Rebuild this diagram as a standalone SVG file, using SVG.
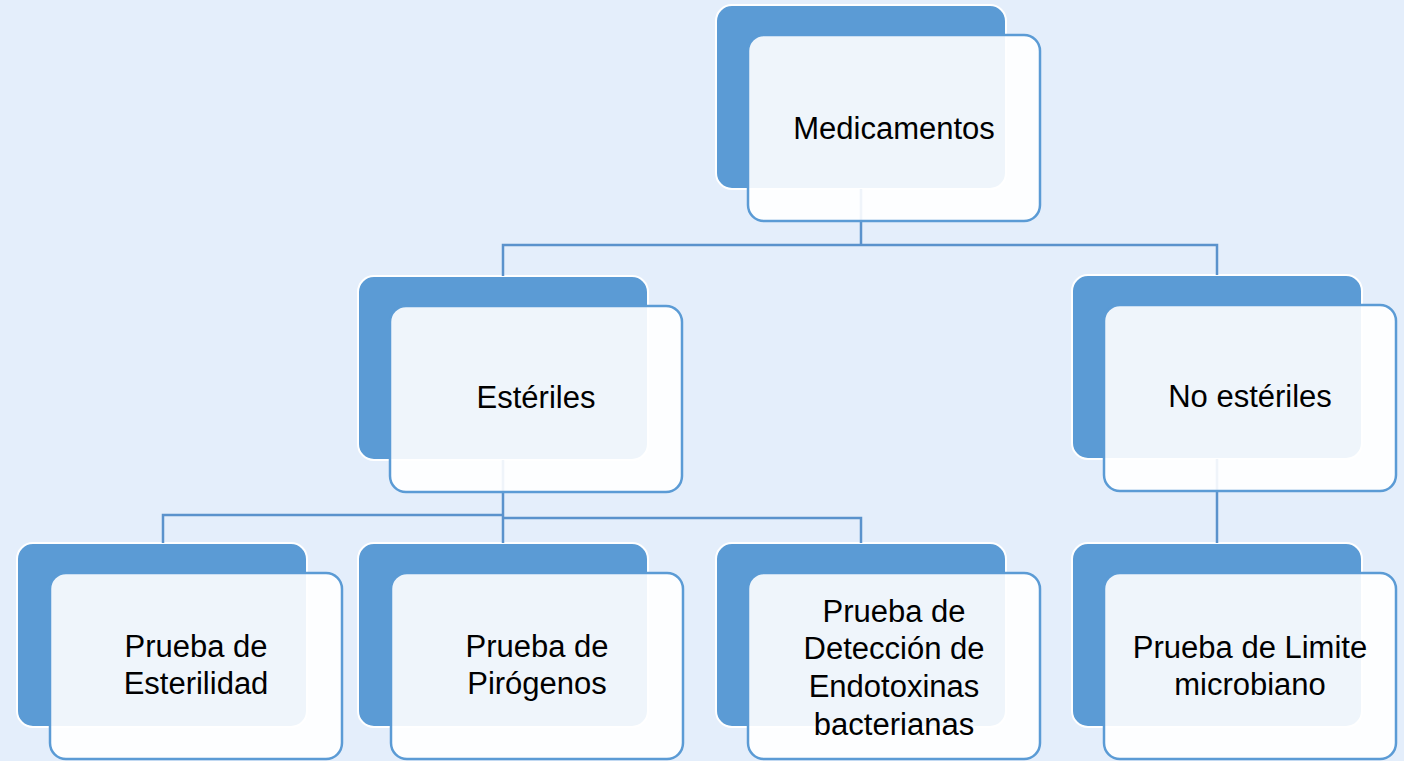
<svg xmlns="http://www.w3.org/2000/svg" width="1404" height="761" viewBox="0 0 1404 761">
<style>
.back{fill:#5B9BD5;stroke:#FFFFFF;stroke-width:2}
.front{fill:#FFFFFF;fill-opacity:0.9;stroke:#5B9BD5;stroke-width:2.5}
.conn{fill:none;stroke:#5A92CC;stroke-width:2.5}
.lbl{font-family:"Liberation Sans",Arial,sans-serif;font-size:31px;fill:#000000;text-anchor:middle}
</style>
<rect width="1404" height="761" fill="#E4EEFB"/>
<g id="backs">
<rect class="back" x="716" y="5" width="290" height="184" rx="16"/>
<rect class="back" x="358" y="276" width="290" height="184" rx="16"/>
<rect class="back" x="1072" y="275" width="290" height="184" rx="16"/>
<rect class="back" x="17" y="543" width="290" height="184" rx="16"/>
<rect class="back" x="358" y="543" width="290" height="184" rx="16"/>
<rect class="back" x="716" y="543" width="290" height="184" rx="16"/>
<rect class="back" x="1072" y="543" width="290" height="184" rx="16"/>
</g>
<g id="connectors">
<path class="conn" d="M861,189 V245 M503,276 V245 H1217 V275"/>
<path class="conn" d="M503,460 V543 M503,515 H163 V543 M503,518 H861 V543"/>
<path class="conn" d="M1217,459 V543"/>
</g>
<g id="medicamentos">
<rect class="front" x="748" y="35" width="292" height="186" rx="16"/>
<text class="lbl" x="894" y="139">Medicamentos</text>
</g>
<g id="esteriles">
<rect class="front" x="390" y="306" width="292" height="186" rx="16"/>
<text class="lbl" x="536" y="408">Estériles</text>
</g>
<g id="no-esteriles">
<rect class="front" x="1104" y="305" width="292" height="186" rx="16"/>
<text class="lbl" x="1250" y="407">No estériles</text>
</g>
<g id="esterilidad">
<rect class="front" x="50" y="573" width="292" height="186" rx="16"/>
<text class="lbl" x="196" y="657">Prueba de</text>
<text class="lbl" x="196" y="694">Esterilidad</text>
</g>
<g id="pirogenos">
<rect class="front" x="391" y="573" width="292" height="186" rx="16"/>
<text class="lbl" x="537" y="657">Prueba de</text>
<text class="lbl" x="537" y="694">Pirógenos</text>
</g>
<g id="endotoxinas">
<rect class="front" x="748" y="573" width="292" height="186" rx="16"/>
<text class="lbl" x="894" y="622">Prueba de</text>
<text class="lbl" x="894" y="659">Detección de</text>
<text class="lbl" x="894" y="697">Endotoxinas</text>
<text class="lbl" x="894" y="735">bacterianas</text>
</g>
<g id="limite">
<rect class="front" x="1104" y="573" width="292" height="186" rx="16"/>
<text class="lbl" x="1250" y="658">Prueba de Limite</text>
<text class="lbl" x="1250" y="695">microbiano</text>
</g>
</svg>
